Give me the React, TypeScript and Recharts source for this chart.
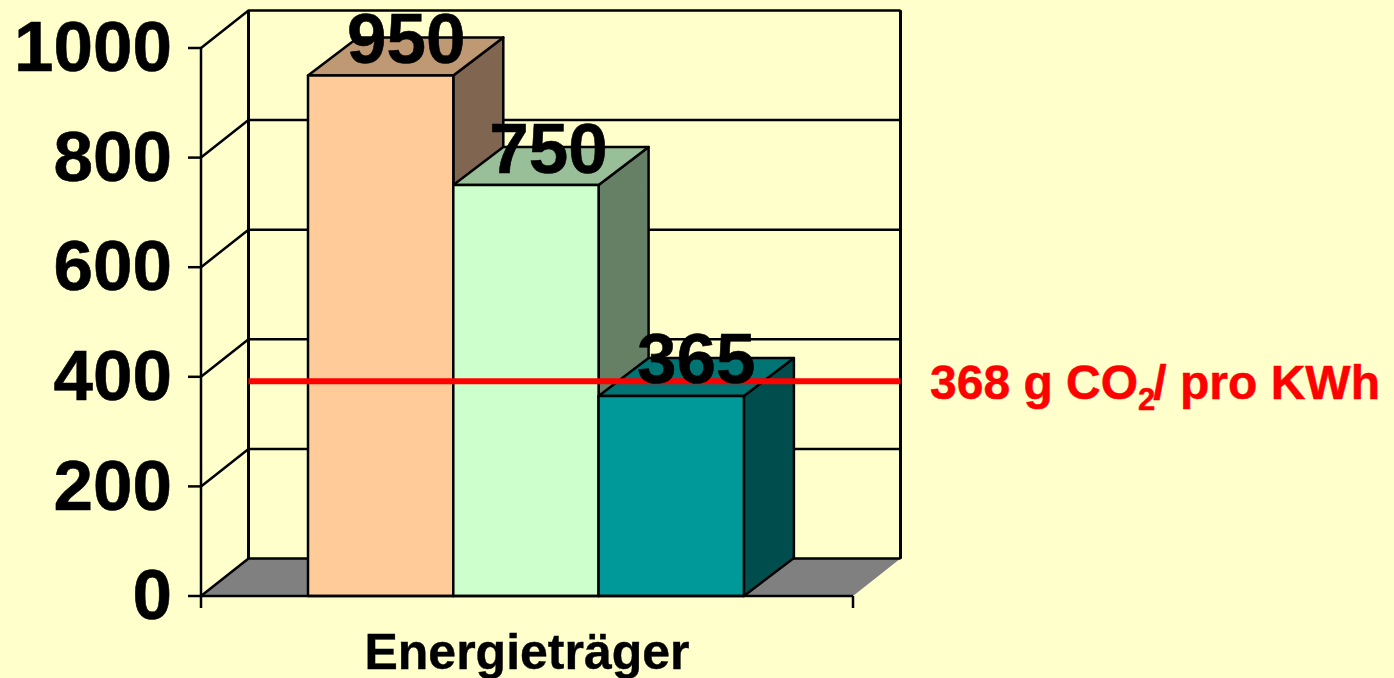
import React from 'react';
import { ComposedChart, Bar, XAxis, YAxis, CartesianGrid, ReferenceLine, LabelList } from 'recharts';

const categories = ['Energieträger'];
const firstValues = [950];
const secondValues = [750];
const thirdValues = [365];
const yTicks = [0, 200, 400, 600, 800, 1000];
const limitPosition = [391];
const limitLabel = ['368 g CO', '2', '/ pro KWh'];

const data = categories.map((category, i) => ({
  category,
  first: firstValues[i],
  second: secondValues[i],
  third: thirdValues[i],
}));

const FONT = '"Liberation Sans", Arial, sans-serif';
const WALL_DX = 47.5;
const WALL_DY = 37.5;
const BAR_DX = 50;
const BAR_DY = 38;
const BAR_SHIFT = -1;
const LINE = 2.5;

const GridLine = (props: any) => {
  const { x1, x2, y1 } = props;
  const isFloor = Math.abs(y1 - 596) < 1;
  const bx = x1 + WALL_DX;
  const by = y1 - WALL_DY;
  return (
    <g>
      {isFloor && (
        <polygon points={`${x1},${y1} ${bx},${by} ${x2 + WALL_DX},${by} ${x2},${y1}`} fill="#808080" stroke="none" />
      )}
      <path d={`M${x1},${y1} L${bx},${by} L${x2 + WALL_DX},${by}`} fill="none" stroke="#000" strokeWidth={LINE} />
      {isFloor && (
        <path d={`M${x1},${y1} V${y1 + 12} M${x2},${y1} V${y1 + 12}`} fill="none" stroke="#000" strokeWidth={LINE} />
      )}
    </g>
  );
};

const WallLine = (props: any) => {
  const { x, offset } = props;
  const left = offset.left;
  const right = offset.left + offset.width;
  const top = offset.top;
  const bottom = offset.top + offset.height;
  if (x > left + 1) return <g />;
  return (
    <path
      d={`M${left + WALL_DX},${top - WALL_DY} V${bottom - WALL_DY} M${right + WALL_DX},${top - WALL_DY} V${bottom - WALL_DY}`}
      fill="none"
      stroke="#000"
      strokeWidth={LINE}
    />
  );
};

const makeBar = (front: string, topFace: string, sideFace: string) => (props: any) => {
  const { x, y, width, height } = props;
  const l = x + BAR_SHIFT;
  const r = l + width;
  const b = y + height;
  return (
    <g stroke="#000" strokeWidth={LINE} strokeLinejoin="round">
      <polygon points={`${r},${y} ${r + BAR_DX},${y - BAR_DY} ${r + BAR_DX},${b - BAR_DY} ${r},${b}`} fill={sideFace} />
      <polygon points={`${l},${y} ${l + BAR_DX},${y - BAR_DY} ${r + BAR_DX},${y - BAR_DY} ${r},${y}`} fill={topFace} />
      <rect x={l} y={y} width={width} height={height} fill={front} />
    </g>
  );
};

const makeLabel = (dx: number) => (props: any) => {
  const { x, y, width, value } = props;
  return (
    <text
      x={x + width / 2 + dx}
      y={y - 12.5}
      textAnchor="middle"
      fontFamily={FONT}
      fontWeight={700}
      fontSize={71}
      stroke="#000"
      strokeWidth={0.6}
      fill="#000"
    >
      {value}
    </text>
  );
};

const LimitLine = (props: any) => {
  const { x1, x2, y1 } = props;
  return (
    <g>
      <line x1={x1 + WALL_DX} x2={x2 + WALL_DX} y1={y1 - 0.5} y2={y1 - 0.5} stroke="#FF0000" strokeWidth={6} />
      <text x={930} y={399} fontFamily={FONT} fontWeight={700} fontSize={48} stroke="#FF0000" strokeWidth={0.5} fill="#FF0000">
        {limitLabel[0]}
        <tspan fontSize={31} dy={11}>{limitLabel[1]}</tspan>
        <tspan fontSize={48} dy={-11} dx={-2}>{limitLabel[2]}</tspan>
      </text>
    </g>
  );
};

export default function App() {
  return (
    <div style={{ position: 'absolute', left: 0, top: 0, width: 1394, height: 678, background: '#FFFFCC', overflow: 'hidden' }}>
      <ComposedChart
        width={1394}
        height={678}
        data={data}
        margin={{ top: 48, right: 541, bottom: 0, left: 0 }}
        barSize={145.3}
        barGap={0}
      >
        <CartesianGrid horizontal={GridLine} vertical={WallLine} />
        <XAxis
          dataKey="category"
          height={82}
          tickLine={false}
          axisLine={{ stroke: '#000', strokeWidth: LINE }}
          tickMargin={31}
          tick={{ fontFamily: FONT, fontWeight: 700, fontSize: 50, fill: '#000', stroke: '#000', strokeWidth: 0.4 }}
          interval={0}
        />
        <YAxis
          width={201}
          domain={[0, 1000]}
          ticks={yTicks}
          interval={0}
          tickSize={13}
          tickMargin={16}
          tickLine={{ stroke: '#000', strokeWidth: LINE }}
          axisLine={{ stroke: '#000', strokeWidth: LINE }}
          tick={{ fontFamily: FONT, fontWeight: 700, fontSize: 71, fill: '#000', stroke: '#000', strokeWidth: 0.6, dy: -2 }}
        />
        <Bar dataKey="first" isAnimationActive={false} shape={makeBar('#FFCC99', '#BF9973', '#806650')}>
          <LabelList dataKey="first" content={makeLabel(24.5)} />
        </Bar>
        <Bar dataKey="second" isAnimationActive={false} shape={makeBar('#CCFFCC', '#99BF99', '#668066')}>
          <LabelList dataKey="second" content={makeLabel(21.5)} />
        </Bar>
        <Bar dataKey="third" isAnimationActive={false} shape={makeBar('#009999', '#007373', '#004D4D')}>
          <LabelList dataKey="third" content={makeLabel(24)} />
        </Bar>
        <ReferenceLine y={limitPosition[0]} shape={LimitLine} />
      </ComposedChart>
    </div>
  );
}
